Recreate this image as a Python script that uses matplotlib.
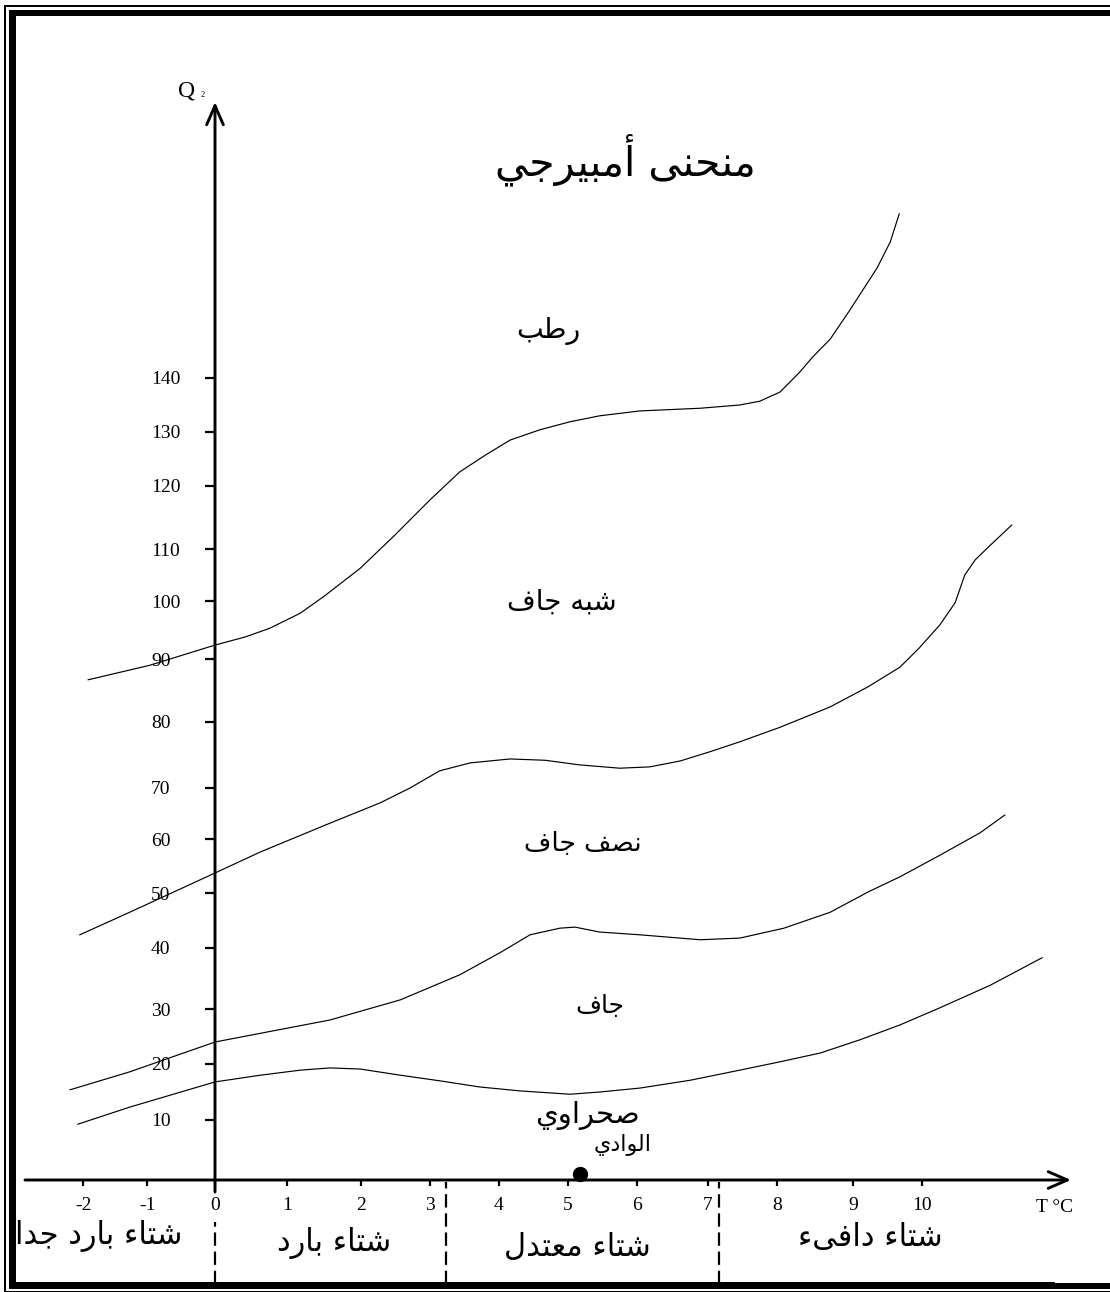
import numpy as np
import matplotlib
matplotlib.use("Agg")
import matplotlib.pyplot as plt
from matplotlib.patches import Rectangle
from matplotlib.transforms import Bbox

# ---------------------------------------------------------------- data
temp_ticks = [-2, -1, 0, 1, 2, 3, 4, 5, 6, 7, 8, 9, 10]
q2_ticks = [10, 20, 30, 40, 50, 60, 70, 80, 90, 100, 110, 120, 130, 140]

# limits between winter classes (m, °C)
winter_limits = [0.0, 3.23, 7.16]

# humid / sub-humid boundary
humid_T = [-1.92, -0.96, 0, 0.42, 0.76, 1.18, 1.51, 1.99, 2.49, 3.0, 3.43, 3.8,
           4.16, 4.59, 5.03, 5.46, 6.04, 6.89, 7.46, 7.75, 8.04, 8.30, 8.47,
           8.70, 8.96, 9.35, 9.54, 9.67]
humid_Q = [86.7, 89.0, 92.4, 93.8, 95.3, 97.9, 101.0, 106.3, 112.2, 117.8, 122.6,
           125.7, 128.5, 130.4, 131.9, 133.0, 133.9, 134.4, 135.0, 135.7, 137.4,
           141.1, 143.9, 147.2, 152.6, 160.4, 165.2, 170.4]

# sub-humid / semi-arid boundary
subhumid_T = [-2.05, -1.27, 0, 0.63, 1.58, 2.28, 2.71, 3.14, 3.58, 4.16, 4.67,
              5.17, 5.75, 6.18, 6.61, 7.03, 7.46, 8.04, 8.70, 9.22, 9.68, 9.96,
              10.26, 10.48, 10.62, 10.77, 10.99, 11.30]
subhumid_Q = [42.4, 46.5, 53.7, 57.6, 63.1, 67.1, 70.0, 72.6, 73.8, 74.4, 74.2,
              73.5, 73.0, 73.2, 74.1, 75.5, 77.0, 79.2, 82.4, 85.6, 88.7, 91.9,
              95.9, 99.7, 105.0, 107.9, 110.6, 113.8]

# semi-arid / arid boundary
semiarid_T = [-2.2, -1.27, 0, 1.58, 2.57, 3.43, 4.01, 4.45, 4.88, 5.10, 5.46,
              6.04, 6.89, 7.46, 8.09, 8.70, 9.22, 9.68, 10.26, 10.84, 11.20]
semiarid_Q = [15.4, 18.6, 24.0, 28.0, 31.5, 35.6, 39.2, 42.4, 43.6, 43.8, 42.9,
              42.4, 41.5, 41.8, 43.6, 46.5, 50.2, 53.0, 57.0, 61.2, 64.7]

# arid / saharan boundary
arid_T = [-2.08, -1.27, 0, 0.63, 1.18, 1.58, 1.99, 2.57, 3.14, 3.72, 4.30, 5.03,
          5.46, 6.04, 6.75, 7.46, 8.04, 8.57, 9.10, 9.68, 10.26, 10.99, 11.74]
arid_Q = [9.3, 12.3, 16.8, 18.0, 18.9, 19.3, 19.1, 18.0, 17.0, 15.9, 15.2, 14.6,
          15.0, 15.7, 17.1, 18.9, 20.4, 22.0, 24.4, 27.1, 30.2, 33.9, 38.4]

# station
station_name = "الوادي"
station_T = 5.17
station_Q = 1.0

title_text = "منحنى أمبيرجي"
zone_names = ["رطب", "شبه جاف", "نصف جاف", "جاف", "صحراوي"]
winter_names = ["شتاء بارد جدا", "شتاء بارد", "شتاء معتدل", "شتاء دافىء"]

# ------------------------------------------------------ page geometry
W, H = 1110, 1292
# the hand-drawn graduations are not evenly spaced: pixel position of each one
temp_grid = [-2, -1, 0, 1, 2, 3, 4, 5, 6, 7, 8, 9, 10]
temp_grid_px = [83, 147, 215, 287, 361, 430, 499, 568, 637, 708, 777, 853, 922]
q2_grid = [0, 10, 20, 30, 40, 50, 60, 70, 80, 90, 100, 110, 120, 130, 140]
q2_grid_px = [1180, 1120, 1064, 1009, 948, 893, 839, 788, 722, 659, 601, 549,
              486, 432, 378]


def piecewise(src, dst):
    src = np.asarray(src, float)
    dst = np.asarray(dst, float)
    s0 = (dst[1] - dst[0]) / (src[1] - src[0])
    s1 = (dst[-1] - dst[-2]) / (src[-1] - src[-2])

    def f(v):
        v = np.asarray(v, float)
        out = np.interp(v, src, dst)
        out = np.where(v < src[0], dst[0] + (v - src[0]) * s0, out)
        out = np.where(v > src[-1], dst[-1] + (v - src[-1]) * s1, out)
        return out
    return f


x_fwd = piecewise(temp_grid, temp_grid_px)
x_inv = piecewise(temp_grid_px, temp_grid)
y_up = [H - p for p in q2_grid_px]
y_fwd = piecewise(q2_grid, y_up)
y_inv = piecewise(y_up, q2_grid)

# ------------------------------------------------ arabic joining forms
DUAL = set("بتثجحخسشصضطظعغفقكلمنهيى")
RIGHT = set("اأإآدذرزوؤة")
FORMS = {
    "ء": ("\uFE80",),
    "أ": ("\uFE83", "\uFE84"),
    "ا": ("\uFE8D", "\uFE8E"),
    "ب": ("\uFE8F", "\uFE90", "\uFE91", "\uFE92"),
    "ت": ("\uFE95", "\uFE96", "\uFE97", "\uFE98"),
    "ج": ("\uFE9D", "\uFE9E", "\uFE9F", "\uFEA0"),
    "ح": ("\uFEA1", "\uFEA2", "\uFEA3", "\uFEA4"),
    "د": ("\uFEA9", "\uFEAA"),
    "ر": ("\uFEAD", "\uFEAE"),
    "ش": ("\uFEB5", "\uFEB6", "\uFEB7", "\uFEB8"),
    "ص": ("\uFEB9", "\uFEBA", "\uFEBB", "\uFEBC"),
    "ط": ("\uFEC1", "\uFEC2", "\uFEC3", "\uFEC4"),
    "ع": ("\uFEC9", "\uFECA", "\uFECB", "\uFECC"),
    "ف": ("\uFED1", "\uFED2", "\uFED3", "\uFED4"),
    "ل": ("\uFEDD", "\uFEDE", "\uFEDF", "\uFEE0"),
    "م": ("\uFEE1", "\uFEE2", "\uFEE3", "\uFEE4"),
    "ن": ("\uFEE5", "\uFEE6", "\uFEE7", "\uFEE8"),
    "ه": ("\uFEE9", "\uFEEA", "\uFEEB", "\uFEEC"),
    "و": ("\uFEED", "\uFEEE"),
    "ى": ("\uFEEF", "\uFEF0", "\uFBE8", "\uFBE9"),
    "ي": ("\uFEF1", "\uFEF2", "\uFEF3", "\uFEF4"),
}


def ar(text):
    """Contextual letter forms, then visual (right-to-left) order."""
    out = []
    n = len(text)
    for i, ch in enumerate(text):
        forms = FORMS.get(ch)
        if forms is None:
            out.append(ch)
            continue
        prev = text[i - 1] if i > 0 else ""
        nxt = text[i + 1] if i < n - 1 else ""
        jp = prev in DUAL and len(forms) > 1
        jn = ch in DUAL and (nxt in DUAL or nxt in RIGHT)
        if jp and jn:
            out.append(forms[3])
        elif jp:
            out.append(forms[1])
        elif jn:
            out.append(forms[2])
        else:
            out.append(forms[0])
    return "".join(reversed(out))


AR_FONT = "DejaVu Sans"
plt.rcParams["font.family"] = ["Liberation Serif", "DejaVu Sans"]

fig = plt.figure(figsize=(W / 100, H / 100), dpi=100)
fig.patch.set_facecolor("white")
ax = fig.add_axes([0, 0, 1, 1])
ax.set_facecolor("none")
ax.set_xscale("function", functions=(x_fwd, x_inv))
ax.set_yscale("function", functions=(y_fwd, y_inv))
ax.set_xlim(float(x_inv(0)), float(x_inv(W)))
ax.set_ylim(float(y_inv(0)), float(y_inv(H)))


def fx(px):
    return px / W


def fy(py):
    return 1 - py / H


# axes through the origin
ax.spines["left"].set_position(("data", 0))
ax.spines["bottom"].set_position(("data", 0))
for s in ax.spines.values():
    s.set_visible(False)

ax.set_xticks(temp_ticks, labels=[str(t) for t in temp_ticks])
ax.set_yticks(q2_ticks, labels=[str(q) for q in q2_ticks])
ax.xaxis.set_minor_locator(matplotlib.ticker.NullLocator())
ax.yaxis.set_minor_locator(matplotlib.ticker.NullLocator())
ax.tick_params(axis="x", direction="out", length=4.5, width=1.6, pad=7.5,
               labelsize=14, bottom=True, top=False)
ax.tick_params(axis="y", direction="out", length=7, width=1.6, pad=39,
               labelsize=14, left=True, right=False)
for lab in ax.get_yticklabels():
    lab.set_horizontalalignment("left")

arrow = dict(arrowstyle="->,head_length=0.55,head_width=0.24", lw=2.1,
             color="black", shrinkA=0, shrinkB=0, mutation_scale=25)
# vertical axis (x in data, y in axes fraction)
ax.annotate("", xy=(0, fy(102)), xytext=(0, fy(1192)),
            xycoords=ax.get_xaxis_transform(),
            textcoords=ax.get_xaxis_transform(), arrowprops=arrow)
# horizontal axis (x in axes fraction, y in data)
ax.annotate("", xy=(fx(1071), 0), xytext=(fx(25), 0),
            xycoords=ax.get_yaxis_transform(),
            textcoords=ax.get_yaxis_transform(), arrowprops=arrow)

# winter class separators
for i, m in enumerate(winter_limits):
    top = 1222 if i == 0 else 1182
    ax.plot([m, m], [fy(1284), fy(top)], transform=ax.get_xaxis_transform(),
            color="black", lw=1.6, dashes=(6, 2.6), clip_on=False)

# climate boundaries
for T, Q in [(humid_T, humid_Q), (subhumid_T, subhumid_Q),
             (semiarid_T, semiarid_Q), (arid_T, arid_Q)]:
    ax.plot(T, Q, color="black", lw=0.85, solid_joinstyle="round")

ax.plot([station_T], [station_Q], "o", color="black", ms=10, clip_on=False)

# text
fig.text(fx(187), fy(91), "Q", fontsize=17, ha="center", va="center")
fig.text(fx(203), fy(95), "2", fontsize=6, ha="center", va="center")
fig.text(fx(1055), fy(1208), "T °C", fontsize=14, ha="center", va="center")

fig.text(fx(625), fy(160), ar(title_text), family=AR_FONT, fontsize=29.5,
         ha="center", va="center")

zone_pos = [(548, 331), (562, 602), (583, 844), (600, 1006), (587, 1115)]
zone_size = [20.5, 20, 19, 18, 21]
for name, (px, py), fs in zip(zone_names, zone_pos, zone_size):
    fig.text(fx(px), fy(py), ar(name), family=AR_FONT, fontsize=fs,
             ha="center", va="center")
fig.text(fx(623), fy(1145), ar(station_name), family=AR_FONT, fontsize=16,
         ha="center", va="center")

winter_pos = [(182, 1236, "right"), (334, 1243, "center"),
              (577, 1247, "center"), (870, 1237, "center")]
clip = Bbox.from_extents(16, 0, W, H)
for name, (px, py, ha) in zip(winter_names, winter_pos):
    t = fig.text(fx(px), fy(py), ar(name), family=AR_FONT, fontsize=22,
                 ha=ha, va="center")
    t.set_clip_box(clip)
    t.set_clip_on(True)


# double page frame
def band(x0, y0, x1, y1):
    fig.add_artist(Rectangle((fx(x0), fy(y1)), (x1 - x0) / W, (y1 - y0) / H,
                             transform=fig.transFigure, facecolor="black",
                             edgecolor="none", zorder=10))


band(4, 5, W, 6.5)        # outer top
band(9, 10, W, 16)        # inner top
band(4, 5, 5.8, H)        # outer left
band(9, 10, 16, 1289)     # inner left
band(9, 1283, W, 1289)    # inner bottom
band(4, 1290.5, W, H)     # outer bottom
band(16, 1281.5, 1055, 1283)

fig.savefig("out.png", dpi=100, facecolor="white")
